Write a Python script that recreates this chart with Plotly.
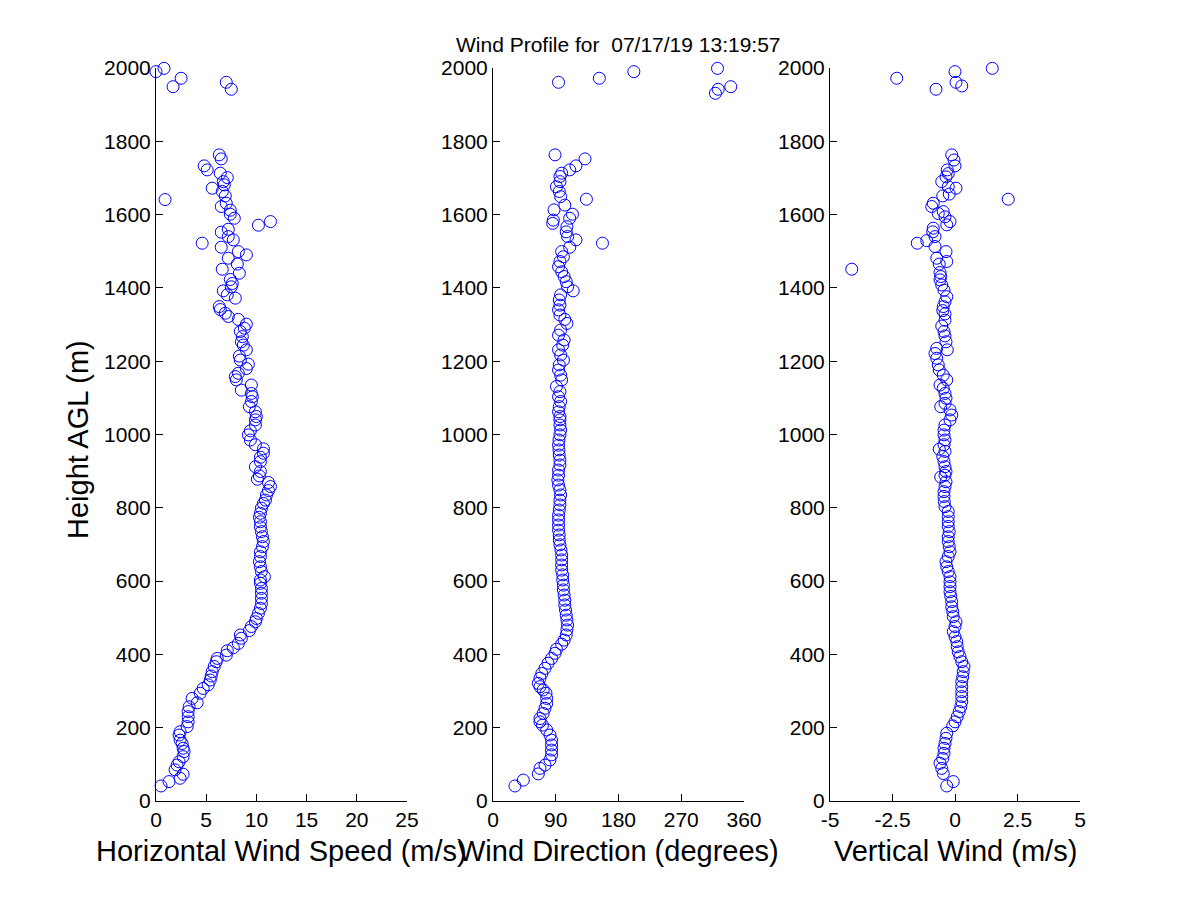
import plotly.graph_objects as go

###
### Данные профиля
###
title_text = 'Wind Profile for\u00a0 07/17/19 13:19:57'

# Горизонтальная скорость ветра
speed_height = [
    41, 53, 62, 73, 85, 98, 107, 121, 135, 144,
    157, 166, 180, 189, 203, 216, 230, 244, 257, 268,
    280, 294, 307, 317, 330, 341, 353, 367, 380, 389,
    398, 410, 418, 430, 444, 453, 465, 476, 489, 498,
    512, 526, 539, 553, 567, 580, 594, 603, 612, 626,
    639, 653, 667, 680, 694, 708, 721, 735, 748, 762,
    774, 785, 799, 812, 821, 835, 847, 858, 869, 878,
    887, 899, 912, 926, 938, 949, 961, 972, 985, 999,
    1010, 1026, 1040, 1049, 1062, 1076, 1090, 1103, 1112, 1121,
    1135, 1149, 1158, 1167, 1180, 1192, 1203, 1214, 1231, 1244,
    1253, 1267, 1281, 1290, 1301, 1314, 1322, 1331, 1341, 1349,
    1372, 1381, 1392, 1403, 1412, 1423, 1440, 1451, 1465, 1481,
    1490, 1499, 1511, 1522, 1531, 1540, 1552, 1560, 1571, 1581,
    1590, 1601, 1612, 1622, 1631, 1641, 1651, 1663, 1672, 1681,
    1690, 1701, 1713, 1722, 1733, 1752, 1763, 1942, 1949, 1961,
    1972, 1990, 1999,
]
speed = [
    0.5, 1.3, 2.4, 2.7, 1.9, 2.1, 2.3, 2.7, 2.8, 2.7,
    2.6, 2.4, 2.3, 2.4, 3.1, 3.2, 3.2, 3.2, 3.3, 4.1,
    3.6, 4.4, 4.7, 5.2, 5.4, 5.5, 5.6, 5.8, 6.0, 6.1,
    7.0, 7.1, 7.7, 8.2, 8.5, 8.4, 9.3, 9.5, 9.9, 10.0,
    10.2, 10.4, 10.5, 10.5, 10.5, 10.5, 10.4, 10.4, 10.8, 10.5,
    10.4, 10.3, 10.4, 10.4, 10.6, 10.7, 10.6, 10.5, 10.4, 10.4,
    10.3, 10.4, 10.5, 10.7, 10.9, 11.0, 11.2, 11.4, 11.2, 10.1,
    10.3, 10.4, 9.9, 10.4, 10.4, 10.7, 10.7, 9.9, 9.4, 9.2,
    9.4, 9.9, 9.9, 10.0, 9.9, 9.3, 9.5, 9.6, 9.5, 8.5,
    9.5, 8.0, 7.9, 8.2, 9.0, 9.2, 8.4, 8.3, 9.0, 8.7,
    8.5, 8.6, 8.4, 8.8, 9.0, 8.2, 7.2, 6.9, 6.4, 6.3,
    7.9, 7.1, 6.7, 7.5, 7.6, 7.4, 8.3, 6.6, 8.1, 7.2,
    9.0, 8.2, 6.5, 4.6, 7.7, 7.2, 6.5, 7.2, 10.2, 11.4,
    7.8, 7.4, 7.4, 6.5, 7.0, 0.9, 6.9, 6.6, 5.6, 6.8,
    6.7, 7.1, 6.4, 5.1, 4.8, 6.5, 6.3, 7.5, 1.7, 7.0,
    2.5, 0.0, 0.8,
]

# Направление ветра
direction_height = [
    41, 57, 74, 89, 98, 112, 126, 139, 153, 166,
    180, 194, 207, 216, 225, 239, 253, 266, 280, 294,
    303, 312, 321, 335, 348, 362, 376, 389, 403, 414,
    428, 439, 453, 467, 480, 494, 507, 521, 535, 548,
    562, 576, 589, 603, 617, 630, 644, 658, 671, 685,
    699, 712, 726, 739, 753, 767, 780, 794, 808, 821,
    835, 849, 862, 876, 889, 903, 917, 930, 944, 958,
    971, 985, 999, 1012, 1026, 1040,
    1049, 1062, 1076, 1090, 1103, 1117, 1131, 1149, 1162, 1176,
    1190, 1203, 1217, 1231, 1244, 1258, 1271, 1285, 1303, 1314,
    1326, 1340, 1353, 1367, 1381, 1392, 1403, 1417, 1431, 1444,
    1458, 1472, 1485, 1499, 1511, 1522, 1531, 1540, 1553, 1567,
    1576, 1585, 1590, 1601, 1613, 1626, 1642, 1649, 1663, 1676,
    1690, 1704, 1713, 1722, 1733, 1752, 1763,
    1931, 1942, 1949, 1961, 1972, 1990, 1999,
]
direction = [
    31.5, 43.5, 65, 67.4, 74.6, 81.7, 84, 84, 84, 84,
    81.7, 77, 71, 67.4, 67.4, 72, 74.6, 77, 77, 76,
    72, 67.4, 65, 67.4, 70, 74.6, 79, 84, 89, 91,
    98.5, 102, 105, 106, 107, 106, 105, 104, 103, 103,
    102, 101, 101, 100, 100, 98.5, 98.5, 98.5, 98.5, 97.5,
    96, 95, 95, 94, 94, 94, 94, 95, 96, 96,
    97, 96, 94, 93, 94, 94, 96, 96, 95, 94.6,
    94, 94.6, 96, 97, 96, 96,
    96, 94, 95, 97, 94, 96, 91, 98.5, 97, 94,
    95, 101, 97, 94, 100, 102, 94, 97, 106, 103,
    96, 94, 96, 95, 97, 115, 107, 105, 102, 98.5,
    94, 96, 101, 98.5, 110, 157, 119, 107, 105, 106,
    85.6, 86.5, 110, 114, 87.5, 103, 134, 97, 95, 91,
    96, 96, 98.5, 110, 119, 132, 89,
    319, 323, 341, 94, 152.5, 202, 322,
]

# Вертикальная скорость
vertical_height = [
    41, 53, 75, 89, 103, 116, 130, 144, 157, 171,
    185, 205, 216, 230, 244, 257, 271, 285, 298, 312,
    326, 339, 353, 367, 380, 394, 407, 421, 435, 448,
    462, 476, 489, 503, 517, 530, 544, 558, 571, 585,
    598, 612, 626, 639, 653, 667, 680, 694, 708, 721,
    735, 749, 762, 776, 790, 803, 817, 831, 844, 858,
    871, 884, 889, 899, 912, 926, 940, 954, 960, 972,
    985, 999, 1012, 1026, 1040,
    1053, 1067, 1076, 1085, 1099, 1112, 1126, 1135, 1149, 1162,
    1176, 1190, 1208, 1221, 1231, 1235, 1253, 1269, 1281, 1296,
    1312, 1329, 1338, 1349, 1362, 1376, 1394, 1408, 1422, 1431,
    1442, 1451, 1465, 1472, 1481, 1499, 1513, 1522, 1529, 1540,
    1553, 1563, 1572, 1581, 1594, 1603, 1608, 1622, 1631, 1642,
    1651, 1656, 1672, 1676, 1690, 1703, 1712, 1722, 1733, 1749,
    1763,
    1942, 1951, 1961, 1972, 1990, 1999,
]
vertical = [
    -0.33, -0.07, -0.47, -0.53, -0.6, -0.49, -0.44, -0.44, -0.4, -0.36,
    -0.33, -0.09, 0, 0.09, 0.17, 0.23, 0.27, 0.27, 0.27, 0.27,
    0.27, 0.31, 0.33, 0.36, 0.27, 0.2, 0.13, 0.09, 0.07, 0,
    -0.07, 0, 0.04, -0.07, -0.09, -0.13, -0.13, -0.17, -0.2, -0.2,
    -0.2, -0.2, -0.27, -0.33, -0.36, -0.27, -0.2, -0.23, -0.27, -0.27,
    -0.23, -0.27, -0.27, -0.27, -0.27, -0.4, -0.43, -0.44, -0.44, -0.4,
    -0.36, -0.57, -0.4, -0.36, -0.4, -0.44, -0.49, -0.4, -0.63, -0.44,
    -0.4, -0.44, -0.44, -0.4, -0.2,
    -0.13, -0.2, -0.57, -0.4, -0.36, -0.4, -0.47, -0.6, -0.33, -0.47,
    -0.63, -0.67, -0.73, -0.8, -0.31, -0.73, -0.36, -0.4, -0.44, -0.53,
    -0.4, -0.4, -0.49, -0.47, -0.4, -0.33, -0.44, -0.53, -0.6, -0.57,
    -0.6, -4.13, -0.63, -0.33, -0.73, -0.36, -0.8, -1.51, -1.13, -0.8,
    -0.89, -0.87, -0.33, -0.2, -0.4, -0.67, -0.47, -0.93, -0.87, 2.13,
    -0.49, -0.23, 0.04, -0.27, -0.53, -0.36, -0.27, -0.31, 0, -0.04,
    -0.13,
    -0.76, 0.27, 0.04, -2.33, 0, 1.49,
]

# Подписи осей и делений
height_ticks = [0, 200, 400, 600, 800, 1000, 1200, 1400, 1600, 1800, 2000]
speed_ticks = [0, 5, 10, 15, 20, 25]
direction_ticks = [0, 90, 180, 270, 360]
vertical_ticks = [-5, -2.5, 0, 2.5, 5]
vertical_ticktext = ['-5', '-2.5', '0', '2.5', '5']
x_titles = ['Horizontal Wind Speed (m/s)', 'Wind Direction (degrees)', 'Vertical Wind (m/s)']
y_title = 'Height AGL (m)'


def plot_wind_profile(width=1200, height=900, page_offset=8):
    """
    Строит три панели профиля ветра (скорость, направление, вертикальная скорость)
    в стиле matlab-картинки

    page_offset (int): отступ body страницы, вычитается из позиций в пикселях
    """
    W, H = width, height
    font = 'Liberation Sans, Arial, sans-serif'

    # Перевод пикселей картинки в доли paper
    def px_x(p):
        return (p - page_offset) / W

    def px_y(p):
        return 1 - (p - page_offset) / H

    # Положение осей в пикселях (лево, право) и по вертикали
    x_px = [(156, 407), (493, 744), (830, 1080)]
    y_top, y_bottom = 68, 801

    fig = go.Figure()

    panels = [
        (speed, speed_height, [0, 25], speed_ticks, [str(t) for t in speed_ticks]),
        (direction, direction_height, [0, 360], direction_ticks, [str(t) for t in direction_ticks]),
        (vertical, vertical_height, [-5, 5], vertical_ticks, vertical_ticktext),
    ]

    for i, (xs, ys, xr, tv, tt) in enumerate(panels):
        n = '' if i == 0 else str(i + 1)
        fig.add_trace(go.Scatter(
            x=xs, y=ys,
            mode='markers',
            marker=dict(symbol='circle-open', size=12, color='#0000ff',
                        line=dict(width=1, color='#0000ff')),
            cliponaxis=False,
            showlegend=False,
            xaxis='x' + n, yaxis='y' + n,
        ))

        axis_common = dict(
            showline=True, linecolor='black', linewidth=1,
            ticks='inside', ticklen=7, tickwidth=1, tickcolor='black',
            showgrid=False, zeroline=False, mirror=False, automargin=False,
            tickfont=dict(family=font, size=21, color='black'),
        )
        fig.update_layout({
            'xaxis' + n: dict(
                domain=[px_x(x_px[i][0]), px_x(x_px[i][1])],
                range=xr, tickvals=tv, ticktext=tt,
                anchor='y' + n, **axis_common),
            'yaxis' + n: dict(
                domain=[px_y(y_bottom), px_y(y_top)],
                range=[0, 2000], tickvals=height_ticks,
                anchor='x' + n, **axis_common),
        })

        # Подпись оси X
        fig.add_annotation(
            text=x_titles[i], xref='paper', yref='paper',
            x=px_x((x_px[i][0] + x_px[i][1]) / 2), y=px_y(851),
            xanchor='center', yanchor='middle', showarrow=False,
            font=dict(family=font, size=29, color='black'))

    # Подпись оси Y
    fig.add_annotation(
        text=y_title, xref='paper', yref='paper',
        x=px_x(78), y=px_y(440), textangle=-90,
        xanchor='center', yanchor='middle', showarrow=False,
        font=dict(family=font, size=29, color='black'))

    # Заголовок над средней панелью
    fig.add_annotation(
        text=title_text, xref='paper', yref='paper',
        x=px_x(618), y=px_y(44),
        xanchor='center', yanchor='middle', showarrow=False,
        font=dict(family=font, size=21, color='black'))

    fig.update_layout(
        width=W, height=H,
        margin=dict(l=0, r=0, t=0, b=0, autoexpand=False),
        plot_bgcolor='white', paper_bgcolor='white',
        showlegend=False,
    )
    return fig


fig = plot_wind_profile()
fig.write_html('out.html')
